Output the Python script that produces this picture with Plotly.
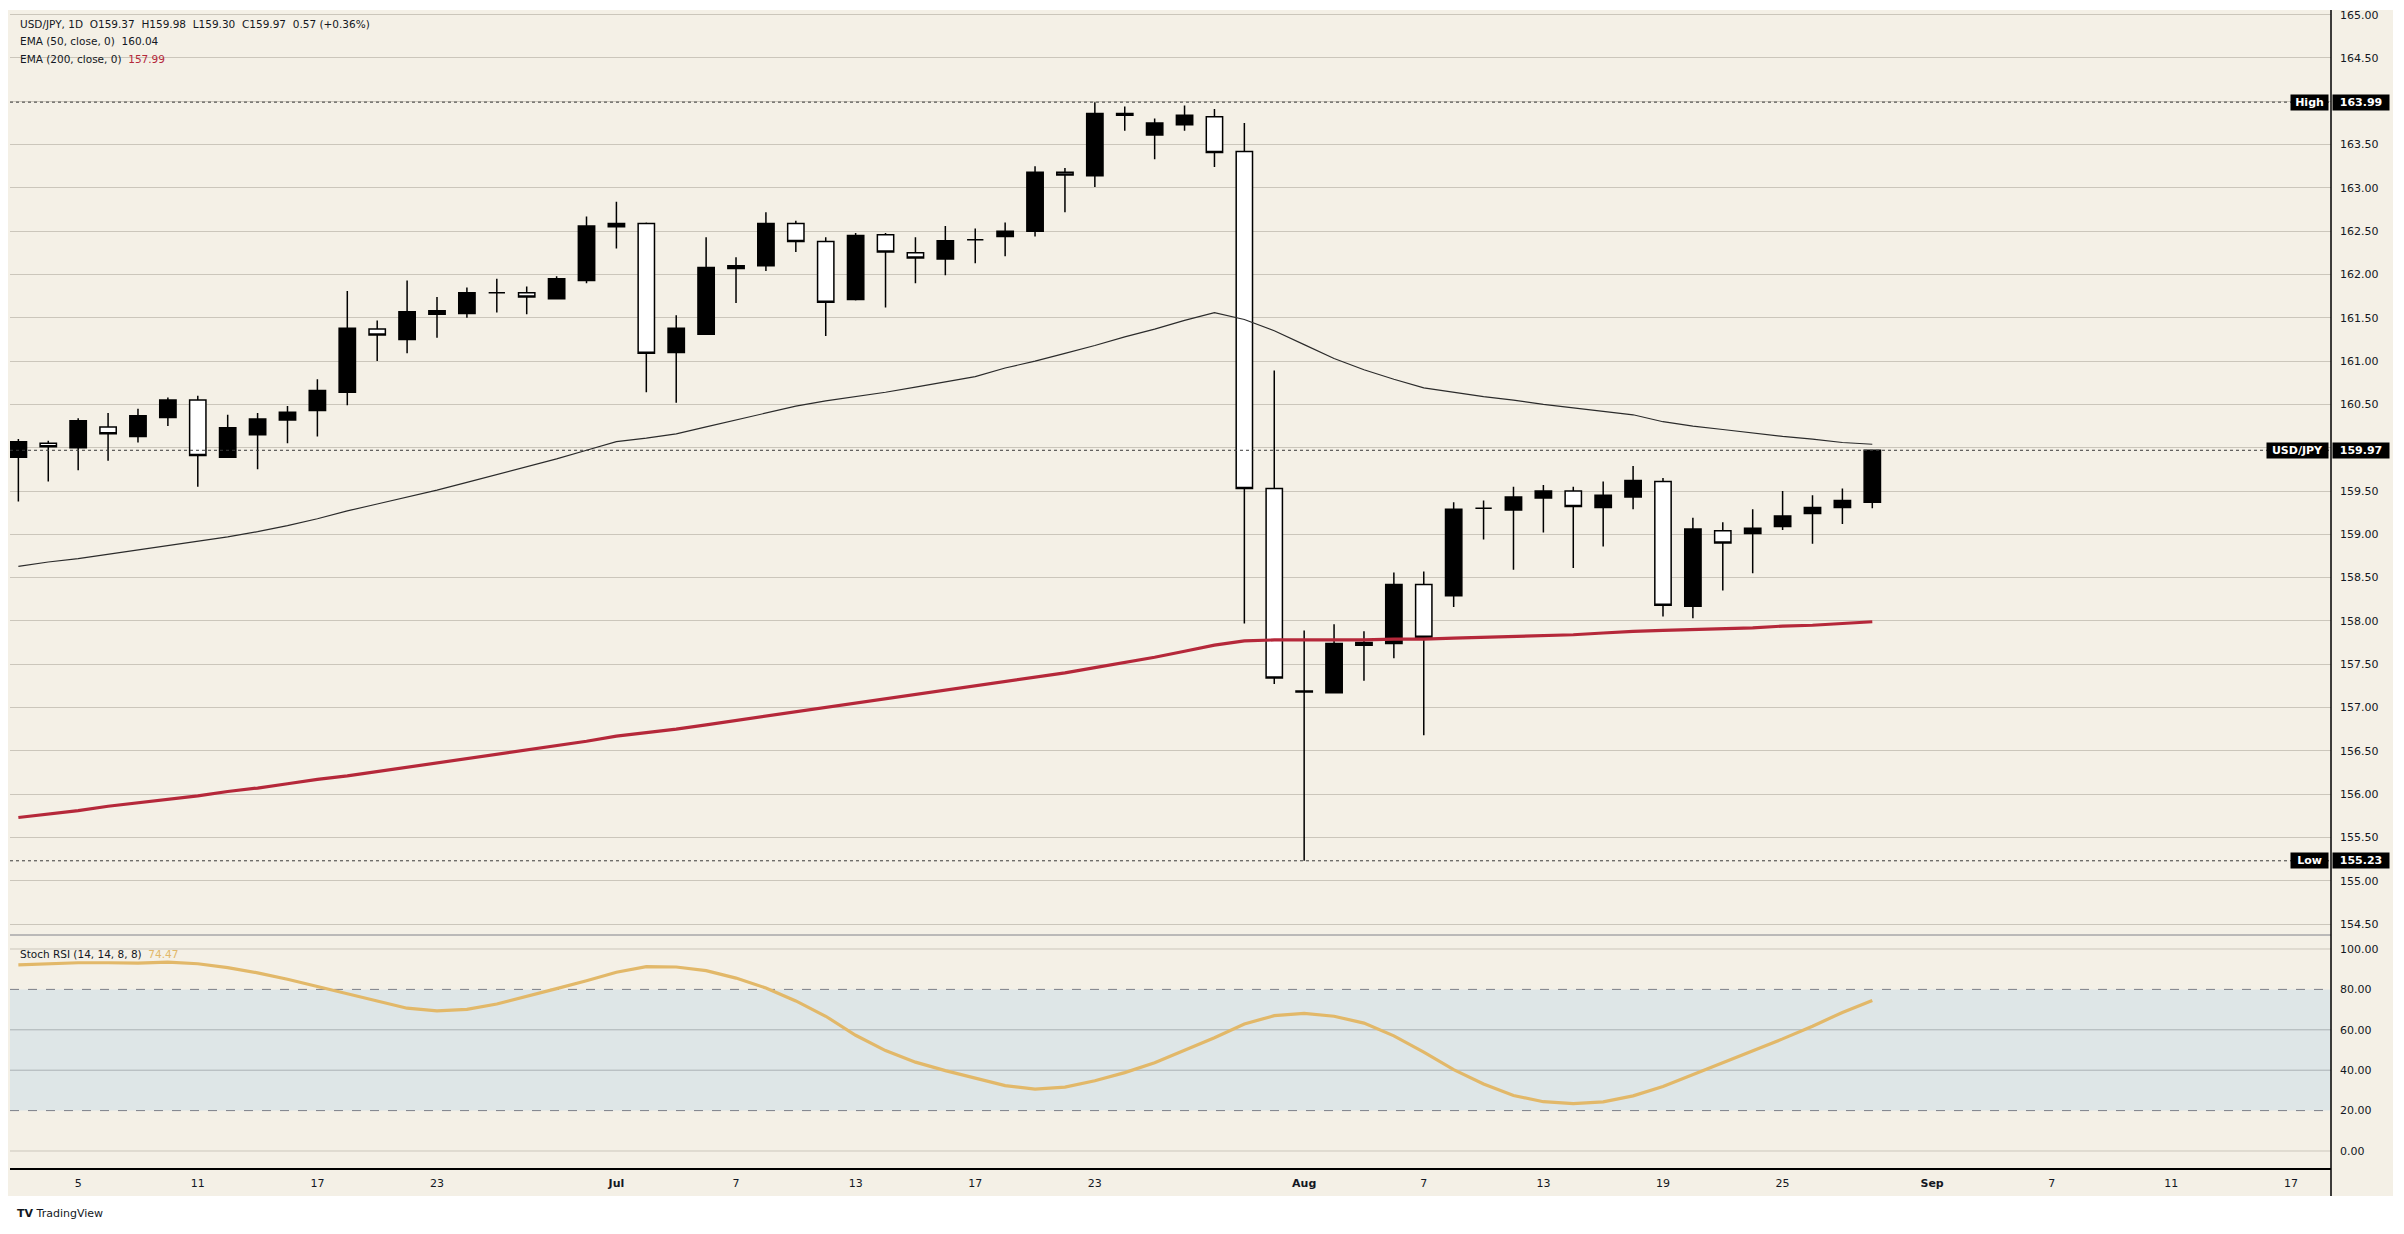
import numpy as np
import pandas as pd
import plotly.graph_objects as go

# trading days Jun 3 - Aug 28 2025 (weekdays only, like the TradingView daily FX chart)
dates = pd.bdate_range("2025-06-03", "2025-08-28").strftime("%Y-%m-%d").tolist()

opens = [159.89, 160.05, 160.00, 160.24, 160.13, 160.35, 160.55, 159.89, 160.15, 160.32,
         160.43, 160.64, 161.37, 161.25, 161.54, 161.55, 161.79, 161.79, 161.72, 161.93,
         162.55, 162.59, 161.10, 161.31, 162.07, 162.10, 162.59, 162.38, 161.71, 162.46,
         162.25, 162.18, 162.40, 162.44, 162.50, 163.18, 163.14, 163.86, 163.61, 163.73,
         163.82, 163.42, 159.53, 157.19, 157.17, 157.72, 157.74, 158.42, 158.29, 159.30,
         159.28, 159.42, 159.50, 159.31, 159.43, 159.61, 158.17, 159.04, 159.01, 159.09,
         159.24, 159.31, 159.37]
highs = [160.10, 160.08, 160.34, 160.40, 160.45, 160.58, 160.60, 160.38, 160.40, 160.48,
         160.79, 161.81, 161.47, 161.93, 161.74, 161.85, 161.95, 161.86, 161.98, 162.67,
         162.84, 162.60, 161.53, 162.43, 162.20, 162.72, 162.62, 162.43, 162.48, 162.48,
         162.43, 162.56, 162.53, 162.60, 163.25, 163.23, 163.99, 163.94, 163.80, 163.95,
         163.91, 163.75, 160.89, 157.89, 157.96, 157.88, 158.56, 158.57, 159.37, 159.39,
         159.55, 159.57, 159.55, 159.61, 159.79, 159.65, 159.19, 159.14, 159.29, 159.50,
         159.45, 159.53, 159.98]
lows = [159.38, 159.61, 159.74, 159.85, 160.06, 160.25, 159.55, 159.89, 159.75, 160.05,
        160.13, 160.49, 161.00, 161.09, 161.27, 161.50, 161.56, 161.54, 161.72, 161.90,
        162.30, 160.64, 160.52, 161.31, 161.67, 162.04, 162.26, 161.29, 161.70, 161.62,
        161.90, 161.99, 162.13, 162.21, 162.44, 162.72, 163.01, 163.66, 163.33, 163.66,
        163.24, 157.97, 157.27, 155.23, 157.17, 157.31, 157.57, 156.68, 158.16, 158.94,
        158.59, 159.02, 158.61, 158.86, 159.29, 158.05, 158.03, 158.35, 158.55, 159.05,
        158.89, 159.12, 159.30]
closes = [160.07, 160.01, 160.31, 160.16, 160.37, 160.55, 159.91, 160.23, 160.33, 160.41,
          160.66, 161.38, 161.30, 161.57, 161.58, 161.79, 161.79, 161.74, 161.95, 162.56,
          162.59, 161.09, 161.38, 162.08, 162.10, 162.59, 162.38, 161.68, 162.45, 162.26,
          162.19, 162.39, 162.40, 162.50, 163.18, 163.15, 163.86, 163.84, 163.75, 163.84,
          163.41, 159.53, 157.34, 157.18, 157.74, 157.75, 158.42, 157.81, 159.29, 159.30,
          159.43, 159.50, 159.32, 159.45, 159.62, 158.18, 159.06, 158.90, 159.07, 159.21,
          159.31, 159.39, 159.97]

ema50 = [158.63, 158.68, 158.72, 158.77, 158.82, 158.87, 158.92, 158.97, 159.03, 159.10,
         159.18, 159.27, 159.35, 159.43, 159.51, 159.60, 159.69, 159.78, 159.87, 159.97,
         160.07, 160.11, 160.16, 160.24, 160.32, 160.40, 160.48, 160.54, 160.59, 160.64,
         160.70, 160.76, 160.82, 160.92, 161.00, 161.09, 161.18, 161.28, 161.37, 161.47,
         161.56, 161.48, 161.35, 161.19, 161.03, 160.90, 160.79, 160.69, 160.64, 160.59,
         160.55, 160.50, 160.46, 160.42, 160.38, 160.30, 160.25, 160.21, 160.17, 160.13,
         160.10, 160.06, 160.04]
ema200 = [155.73, 155.77, 155.81, 155.86, 155.90, 155.94, 155.98, 156.03, 156.07, 156.12,
          156.17, 156.21, 156.26, 156.31, 156.36, 156.41, 156.46, 156.51, 156.56, 156.61,
          156.67, 156.71, 156.75, 156.80, 156.85, 156.90, 156.95, 157.00, 157.05, 157.10,
          157.15, 157.20, 157.25, 157.30, 157.35, 157.40, 157.46, 157.52, 157.58, 157.65,
          157.72, 157.77, 157.78, 157.78, 157.78, 157.78, 157.79, 157.79, 157.80, 157.81,
          157.82, 157.83, 157.84, 157.86, 157.88, 157.89, 157.90, 157.91, 157.92, 157.94,
          157.95, 157.97, 157.99]
stoch_rsi = [92.1, 92.7, 93.2, 93.2, 93.0, 93.5, 92.7, 90.8, 88.2, 85.0,
             81.4, 78.0, 74.6, 70.7, 69.4, 70.1, 72.8, 76.4, 80.4, 84.3,
             88.5, 91.3, 91.1, 89.3, 85.6, 80.7, 74.3, 66.7, 57.3, 49.7,
             44.0, 39.8, 36.1, 32.4, 30.6, 31.6, 34.8, 38.8, 43.7, 49.7,
             56.1, 62.9, 67.0, 68.1, 66.7, 63.3, 57.0, 48.9, 40.3, 33.2,
             27.5, 24.4, 23.5, 24.3, 27.3, 31.9, 37.7, 43.7, 49.5, 55.5,
             61.8, 68.6, 74.47]

# x-axis labels: bar slot (0 = Jun 3) and text, future slots continue past the last bar
tick_pos = [2, 6, 10, 14, 20, 24, 28, 32, 36, 43, 47, 51, 55, 59, 64, 68, 72, 76]
tick_text = ["5", "11", "17", "23", "<b>Jul</b>", "7", "13", "17", "23", "<b>Aug</b>",
             "7", "13", "19", "25", "<b>Sep</b>", "7", "11", "17"]

period_high = 163.99
period_low = 155.23
last_close = 159.97

BG = "#F4F0E6"
GRID = "#CBC6BB"
INK = "#131722"
FONT = "DejaVu Sans"

xpos = np.arange(len(dates))
split = 0.2012  # bottom of price pane in paper units

fig = go.Figure()

fig.add_trace(go.Scatter(x=xpos, y=ema200, mode="lines", yaxis="y",
                         line=dict(color="#B5283A", width=3.2), hoverinfo="skip"))
fig.add_trace(go.Scatter(x=xpos, y=ema50, mode="lines", yaxis="y",
                         line=dict(color="#2B2B2B", width=1.2), hoverinfo="skip"))
fig.add_trace(go.Candlestick(
    x=xpos, open=opens, high=highs, low=lows, close=closes, text=dates,
    yaxis="y", whiskerwidth=0,
    increasing=dict(line=dict(color="#000000", width=1.5), fillcolor="#000000"),
    decreasing=dict(line=dict(color="#000000", width=1.5), fillcolor="#FFFFFF"),
))
fig.add_trace(go.Scatter(x=xpos, y=stoch_rsi, mode="lines", yaxis="y2",
                         line=dict(color="#E2B869", width=3.2), hoverinfo="skip"))

shapes = [
    # beige chart canvas (covers plot + axis strips)
    dict(type="rect", xref="paper", yref="paper", x0=-0.001, x1=1.0267, y0=-0.0242, y1=1.0,
         fillcolor=BG, line=dict(width=0), layer="below"),
    # overbought / oversold band
    dict(type="rect", xref="paper", yref="y2", x0=0, x1=1, y0=20, y1=80,
         fillcolor="#DEE6E7", line=dict(width=0), layer="below"),
]
for lvl, col in [(100, GRID), (60, "#AAB1B4"), (40, "#AAB1B4"), (0, GRID)]:
    shapes.append(dict(type="line", xref="paper", yref="y2", x0=0, x1=1, y0=lvl, y1=lvl,
                       line=dict(color=col, width=1), layer="below"))
for lvl in [80, 20]:
    shapes.append(dict(type="line", xref="paper", yref="y2", x0=0, x1=1, y0=lvl, y1=lvl,
                       line=dict(color="#7C7F88", width=1, dash="dash"), layer="below"))
for lvl in [period_high, last_close, period_low]:
    shapes.append(dict(type="line", xref="paper", yref="y", x0=0, x1=1, y0=lvl, y1=lvl,
                       line=dict(color="#3A3A3A", width=1, dash="dot"), layer="above"))
# pane divider and right price-scale border
shapes.append(dict(type="line", xref="paper", yref="paper", x0=0, x1=1, y0=split, y1=split,
                   line=dict(color="#80828A", width=1.2)))
shapes.append(dict(type="line", xref="paper", yref="paper", x0=1, x1=1, y0=-0.0242, y1=1.0,
                   line=dict(color="#000000", width=1.5)))

annotations = []
legend_lines = [
    "USD/JPY, 1D  O159.37  H159.98  L159.30  C159.97  0.57 (+0.36%)",
    "EMA (50, close, 0)  160.04",
    "EMA (200, close, 0)  <span style='color:#B5283A'>157.99</span>",
]
for k, txt in enumerate(legend_lines):
    annotations.append(dict(xref="paper", yref="paper", x=0.0035, y=0.988 - k * 0.0151,
                            xanchor="left", yanchor="middle", showarrow=False, text=txt,
                            font=dict(family=FONT, size=10.5, color=INK)))
annotations.append(dict(xref="paper", yref="y2", x=0.0035, y=97.5, xanchor="left",
                        yanchor="middle", showarrow=False,
                        text="Stoch RSI (14, 14, 8, 8)  <span style='color:#E2B869'>74.47</span>",
                        font=dict(family=FONT, size=10.5, color=INK)))

# price-scale markers
for lvl, tag, tag_w in [(period_high, "High", 35), (last_close, "USD/JPY", 59), (period_low, "Low", 35)]:
    annotations.append(dict(xref="paper", yref="y", x=1, y=lvl, xanchor="right", xshift=-2,
                            yanchor="middle", showarrow=False, text="<b>%s</b>" % tag,
                            width=tag_w, height=13, borderpad=1, bgcolor="#000000",
                            font=dict(family=FONT, size=11, color="#FFFFFF")))
    annotations.append(dict(xref="paper", yref="y", x=1, y=lvl, xanchor="left", xshift=1,
                            yanchor="middle", showarrow=False, text="<b>%.2f</b>" % lvl,
                            width=54, height=13, borderpad=1, bgcolor="#000000",
                            font=dict(family=FONT, size=11, color="#FFFFFF")))

annotations.append(dict(xref="paper", yref="paper", x=0.002, y=-0.0395, xanchor="left",
                        yanchor="middle", showarrow=False,
                        text="<b>TV</b> TradingView",
                        font=dict(family=FONT, size=11, color=INK)))

# the page body adds an 8px offset, so margins are trimmed by that much
fig.update_layout(
    width=2404, height=1234,
    margin=dict(l=2, r=81, t=2, b=74),
    paper_bgcolor="#FFFFFF",
    plot_bgcolor="rgba(0,0,0,0)",
    showlegend=False,
    boxgap=0.22,
    font=dict(family=FONT, size=11, color=INK),
    xaxis=dict(range=[-0.28, 77.34], anchor="y2", tickmode="array",
               tickvals=tick_pos, ticktext=tick_text, showgrid=False, zeroline=False,
               showline=True, linecolor="#000000", linewidth=1.5, ticks="",
               ticklabelstandoff=4, rangeslider=dict(visible=False),
               tickfont=dict(family=FONT, size=11, color=INK)),
    yaxis=dict(domain=[split, 1], side="right", anchor="x", range=[154.373, 165.054],
               tick0=0, dtick=0.5, tickformat=".2f", showgrid=True, gridcolor=GRID,
               gridwidth=1, zeroline=False, showline=False, ticks="",
               ticklabelstandoff=8, tickfont=dict(family=FONT, size=11, color=INK)),
    yaxis2=dict(domain=[0, split], side="right", anchor="x", range=[-8.42, 106.93],
                tickvals=[0, 20, 40, 60, 80, 100], tickformat=".2f", showgrid=False,
                zeroline=False, showline=False, ticks="",
                ticklabelstandoff=8, tickfont=dict(family=FONT, size=11, color=INK)),
    shapes=shapes,
    annotations=annotations,
)

fig.write_html("out.html")
